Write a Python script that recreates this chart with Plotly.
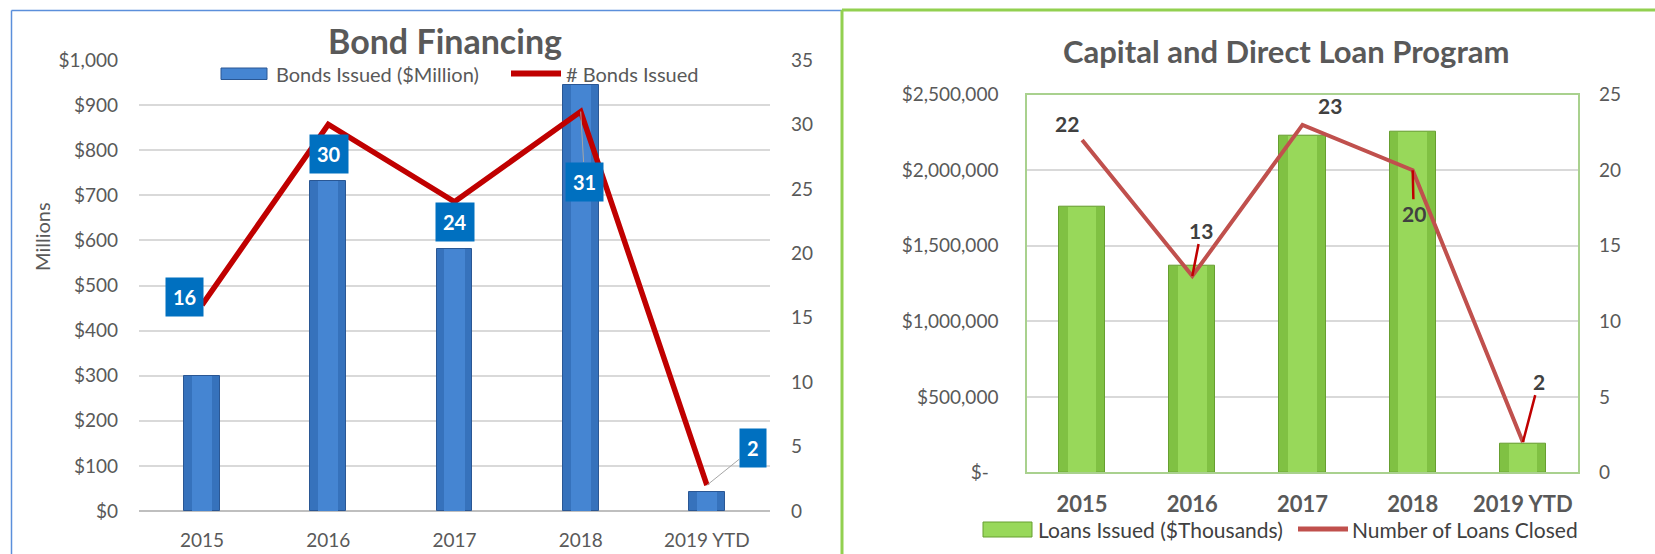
import plotly.graph_objects as go

# ---------------- data ----------------
years = ["2015", "2016", "2017", "2018", "2019 YTD"]

bonds_issued_musd = [300, 731, 581, 945, 42]      # Bonds Issued ($Million)
bonds_count = [16, 30, 24, 31, 2]                 # # Bonds Issued

loans_issued_kusd = [1758000, 1365000, 2231000, 2257000, 191000]  # Loans Issued ($Thousands)
loans_count = [22, 13, 23, 20, 2]                  # Number of Loans Closed

left_y_ticks = [0, 100, 200, 300, 400, 500, 600, 700, 800, 900, 1000]
left_y_text = ["$0", "$100", "$200", "$300", "$400", "$500", "$600", "$700", "$800", "$900", "$1,000"]
right_y_ticks = [0, 500000, 1000000, 1500000, 2000000, 2500000]
right_y_text = ["$-\u00a0\u00a0", "$500,000", "$1,000,000", "$1,500,000", "$2,000,000", "$2,500,000"]

W, H = 1655, 554
FONT = "Lato"
GREY = "#595959"
BLUE, BLUE_EDGE, BLUE_HI = "#3672BC", "#2A5794", "#4585D2"
GREEN, GREEN_EDGE, GREEN_HI = "#80C143", "#679F30", "#98D85A"
RED_L, RED_R = "#C00000", "#C0504D"

def px_x(p):
    return p / W

def px_y(p):
    return (H - p) / H

fig = go.Figure()

# ---------------- left chart ----------------
fig.add_trace(go.Bar(
    x=years, y=bonds_issued_musd, name="Bonds Issued ($Million)",
    marker=dict(color=BLUE, line=dict(color=BLUE_EDGE, width=1)),
    width=0.285, xaxis="x", yaxis="y", showlegend=False,
))
fig.add_trace(go.Bar(  # central highlight of the same bars
    x=years, y=bonds_issued_musd, name="Bonds Issued ($Million)",
    marker=dict(color=BLUE_HI, line=dict(width=0)), hoverinfo="skip",
    width=0.16, xaxis="x", yaxis="y", showlegend=False,
))
fig.add_trace(go.Scatter(
    x=years, y=bonds_count, name="# Bonds Issued", mode="lines",
    line=dict(color=RED_L, width=5.5), xaxis="x", yaxis="y2", showlegend=False,
))

# ---------------- right chart ----------------
fig.add_trace(go.Bar(
    x=years, y=loans_issued_kusd, name="Loans Issued ($Thousands)",
    marker=dict(color=GREEN, line=dict(color=GREEN_EDGE, width=1)),
    width=0.42, xaxis="x2", yaxis="y3", showlegend=False,
))
fig.add_trace(go.Bar(
    x=years, y=loans_issued_kusd, name="Loans Issued ($Thousands)",
    marker=dict(color=GREEN_HI, line=dict(width=0)), hoverinfo="skip",
    width=0.26, xaxis="x2", yaxis="y3", showlegend=False,
))
fig.add_trace(go.Scatter(
    x=years, y=loans_count, name="Number of Loans Closed", mode="lines",
    line=dict(color=RED_R, width=4), xaxis="x2", yaxis="y4", showlegend=False,
))

ann = []

# left data labels (blue boxes)
left_offsets = [
    dict(showarrow=False, xshift=-18, yshift=8),
    dict(showarrow=False, xshift=1, yshift=-30),
    dict(showarrow=False, xshift=0, yshift=-20),
    dict(showarrow=True, ax=4, ay=70),
    dict(showarrow=True, ax=46, ay=-37),
]
for i, (yv, off) in enumerate(zip(bonds_count, left_offsets)):
    a = dict(x=i, y=yv, xref="x", yref="y2", text="<b>%d</b>" % yv,
             font=dict(family=FONT, size=20, color="white"),
             bgcolor="#0070C0", borderpad=7,
             arrowhead=0, arrowwidth=1, arrowcolor="#A6A6A6", standoff=0)
    a.update(off)
    ann.append(a)

# right data labels
right_offsets = [
    dict(showarrow=False, xshift=-15, yshift=17),
    dict(showarrow=True, ax=9, ay=-46),
    dict(showarrow=False, xshift=27, yshift=19),
    dict(showarrow=True, ax=1, ay=43),
    dict(showarrow=True, ax=16, ay=-61),
]
for i, (yv, off) in enumerate(zip(loans_count, right_offsets)):
    a = dict(x=i, y=yv, xref="x2", yref="y4", text="<b>%d</b>" % yv,
             font=dict(family=FONT, size=21, color="#404040"),
             arrowhead=0, arrowwidth=2.5, arrowcolor="#C00000", standoff=0)
    a.update(off)
    ann.append(a)

# titles
ann.append(dict(x=px_x(445), y=px_y(40), xref="paper", yref="paper",
                text="<b>Bond Financing</b>", showarrow=False,
                font=dict(family=FONT, size=34, color=GREY),
                xanchor="center", yanchor="middle"))
ann.append(dict(x=px_x(1286), y=px_y(51), xref="paper", yref="paper",
                text="<b>Capital and Direct Loan Program</b>", showarrow=False,
                font=dict(family=FONT, size=31, color=GREY),
                xanchor="center", yanchor="middle"))
ann.append(dict(x=px_x(42), y=px_y(237), xref="paper", yref="paper",
                text="Millions", showarrow=False, textangle=-90,
                font=dict(family=FONT, size=20, color=GREY),
                xanchor="center", yanchor="middle"))

# legend texts
legend_items = [
    ("Bonds Issued ($Million)", 274, 73.5, 20, GREY),
    ("# Bonds Issued", 564, 73.5, 20, GREY),
    ("Loans Issued ($Thousands)", 1036, 529, 21, "#404040"),
    ("Number of Loans Closed", 1350, 529, 21, "#404040"),
]
for txt, lx, ly, fs, col in legend_items:
    ann.append(dict(x=px_x(lx), y=px_y(ly), xref="paper", yref="paper", text=txt,
                    showarrow=False, xanchor="left", yanchor="middle",
                    font=dict(family=FONT, size=fs, color=col)))

shapes = [
    # left chart frame (blue)
    dict(type="line", xref="paper", yref="paper", x0=px_x(11.5), x1=px_x(842),
         y0=px_y(10.5), y1=px_y(10.5), line=dict(color="#5B8FDB", width=1.5)),
    dict(type="line", xref="paper", yref="paper", x0=px_x(11.5), x1=px_x(11.5),
         y0=px_y(10.5), y1=0, line=dict(color="#5B8FDB", width=1.5)),
    # right chart frame (green)
    dict(type="line", xref="paper", yref="paper", x0=px_x(842), x1=1,
         y0=px_y(10), y1=px_y(10), line=dict(color="#92D050", width=3)),
    dict(type="line", xref="paper", yref="paper", x0=px_x(842), x1=px_x(842),
         y0=px_y(10), y1=0, line=dict(color="#92D050", width=3)),
    # legend swatches
    dict(type="rect", xref="paper", yref="paper", x0=px_x(221), x1=px_x(267),
         y0=px_y(79.5), y1=px_y(68), fillcolor=BLUE_HI, line=dict(color=BLUE_EDGE, width=1)),
    dict(type="line", xref="paper", yref="paper", x0=px_x(511), x1=px_x(561),
         y0=px_y(73.5), y1=px_y(73.5), line=dict(color=RED_L, width=6)),
    dict(type="rect", xref="paper", yref="paper", x0=px_x(983), x1=px_x(1032),
         y0=px_y(537), y1=px_y(522), fillcolor=GREEN_HI, line=dict(color=GREEN_EDGE, width=1)),
    dict(type="line", xref="paper", yref="paper", x0=px_x(1298), x1=px_x(1348),
         y0=px_y(529), y1=px_y(529), line=dict(color=RED_R, width=5)),
]

tick_font = dict(family=FONT, size=19, color=GREY)

fig.update_layout(
    width=W, height=H,
    margin=dict(l=0, r=0, t=0, b=0, autoexpand=False),
    paper_bgcolor="white", plot_bgcolor="white",
    barmode="overlay", bargap=0, showlegend=False,
    annotations=ann, shapes=shapes,
    xaxis=dict(type="category", domain=[px_x(139), px_x(770)], anchor="y",
               range=[-0.5, len(years) - 0.5],
               tickfont=dict(family=FONT, size=19, color=GREY), automargin=False,
               showgrid=False, showline=False, ticks="", ticklabelstandoff=16),
    yaxis=dict(domain=[px_y(511), px_y(60)], anchor="x", range=[0, 1000],
               tickvals=left_y_ticks, ticktext=left_y_text, automargin=False,
               tickfont=tick_font, showgrid=True, gridcolor="#D9D9D9", gridwidth=1.5,
               zeroline=True, zerolinecolor="#BFBFBF", zerolinewidth=2,
               ticks="", ticklabelstandoff=20),
    yaxis2=dict(overlaying="y", side="right", anchor="x", range=[0, 35], dtick=5,
                tickfont=tick_font, showgrid=False, zeroline=False, automargin=False,
                ticks="", ticklabelstandoff=20),
    xaxis2=dict(type="category", domain=[px_x(1027), px_x(1578)], anchor="y3",
                range=[-0.5, len(years) - 0.5],
                tickfont=dict(family=FONT, size=22, color=GREY, weight="bold"),
                automargin=False,
                showgrid=False, showline=True, mirror=True, linecolor="#A9D18E",
                linewidth=1.5, ticks="", ticklabelstandoff=11),
    yaxis3=dict(domain=[px_y(472.4), px_y(94.7)], anchor="x2", range=[0, 2500000],
                tickvals=right_y_ticks, ticktext=right_y_text, automargin=False,
                tickfont=tick_font, showgrid=True, gridcolor="#D9D9D9", gridwidth=1.5,
                zeroline=False, showline=True, mirror=True, linecolor="#A9D18E",
                linewidth=1.5, ticks="", ticklabelstandoff=23),
    yaxis4=dict(overlaying="y3", side="right", anchor="x2", range=[0, 25], dtick=5,
                tickfont=tick_font, showgrid=False, zeroline=False, automargin=False,
                ticks="", ticklabelstandoff=20),
)

fig.write_html("out.html", config={"displayModeBar": False},
               post_script="document.body.style.margin='0';document.body.style.overflow='hidden';")
